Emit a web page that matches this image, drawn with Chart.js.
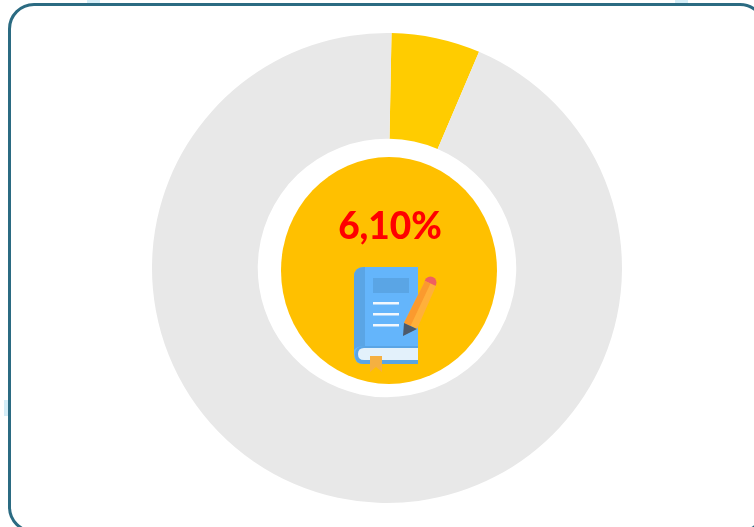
<!DOCTYPE html>
<html>
<head>
<meta charset="utf-8">
<script src="https://cdn.jsdelivr.net/npm/chart.js@4/dist/chart.umd.min.js"></script>
<style>
html, body { margin: 0; padding: 0; background: #fff; overflow: hidden; }
#wrap { position: relative; width: 754px; height: 527px; overflow: hidden; }
#wrap canvas, #wrap svg { position: absolute; left: 0; top: 0; }
.speck { position: absolute; background: #d5eef8; }
#frame {
	position: absolute; left: 8px; top: 3px; width: 758px; height: 530px;
	border: 3px solid #2b6b82; border-radius: 26px; background: #fff; box-sizing: border-box;
}
#value {
	position: absolute; left: 290px; width: 200px; top: 202px; text-align: center;
	font: 900 37px Lato, sans-serif; color: #ff0000;
}
</style>
</head>
<body>
<div id="wrap">
	<div class="speck" style="left:87px;top:0;width:13px;height:4px"></div>
	<div class="speck" style="left:675px;top:0;width:13px;height:4px"></div>
	<div class="speck" style="left:4px;top:400px;width:5px;height:16px"></div>
	<div id="frame"></div>
	<canvas id="myChart" width="754" height="527"></canvas>
	<svg width="754" height="527" viewBox="0 0 754 527">
		<ellipse cx="389" cy="270.5" rx="108" ry="113.5" fill="#ffc000"/>
		<!-- book -->
		<path d="M364 267H418V364H364Q354 364 354 354V277Q354 267 364 267Z" fill="#64b5fb"/>
		<path d="M364 267H365V346H364Q357 346 354 350V277Q354 267 364 267Z" fill="#5aa5e5"/>
		<path d="M418 346H364Q355 346 355 355Q355 364 364 364H418Z" fill="#5aa5e5"/>
		<path d="M418 348H364Q358 348 358 354Q358 360 364 360H418Z" fill="#e3f1fb"/>
		<rect x="373" y="278" width="36" height="15" fill="#5aa5e5"/>
		<rect x="373" y="302" width="26" height="2.5" fill="#f2f8fd"/>
		<rect x="373" y="313" width="26" height="2.5" fill="#f2f8fd"/>
		<rect x="373" y="324" width="26" height="2.5" fill="#f2f8fd"/>
		<path d="M370 356H382V372L376 367L370 372Z" fill="#f5b041"/>
		<!-- pencil -->
		<circle cx="430.5" cy="282.5" r="6" fill="#ef6060"/>
		<path d="M404 323L425 281L436 286L417 329Z" fill="#ffb03b"/>
		<path d="M404 323L425 281L430.5 283.5L410.5 326Z" fill="#fb9a2e"/>
		<path d="M404 323L417 329L403 336Z" fill="#4d5a6b"/>
	</svg>
	<div id="value">6,10%</div>
</div>
<script>
// values
let categories = ["Achieved", "Remaining"];
let seriesValues = [6.10, 93.90];
let sliceColors = ["#ffcc00", "#e8e8e8"];

let ctx = document.getElementById("myChart").getContext("2d");
let myChart = new Chart(ctx, {
	type: "doughnut",
	data: {
		labels: categories,
		datasets: [{
			data: seriesValues,
			backgroundColor: sliceColors,
			borderWidth: 0
		}]
	},
	options: {
		responsive: false,
		animation: false,
		cutout: "55%",
		rotation: 1.1,
		layout: { padding: { left: 152, right: 132, top: 33, bottom: 24 } },
		plugins: {
			legend: { display: false },
			tooltip: { enabled: false }
		}
	}
});
</script>
</body>
</html>
